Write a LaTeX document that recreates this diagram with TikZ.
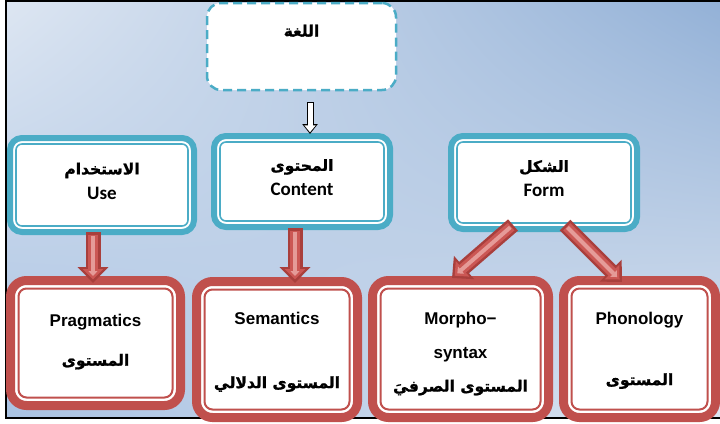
\documentclass[tikz,border=0pt]{standalone}
\usepackage{fontspec}
\setmainfont{Liberation Sans}
\newfontfamily\arfont[Script=Arabic, BoldFeatures={FakeBold=1.2}]{DejaVu Sans}
\newfontfamily\calfont{Carlito}
\TeXXeTstate=1
\usepackage{tikz}
\usetikzlibrary{calc,arrows.meta,shadings}

\definecolor{tealline}{HTML}{4BACC6}
\definecolor{redline}{HTML}{C0504D}
\definecolor{bgul}{HTML}{DDE6F2}
\definecolor{bgur}{HTML}{93B1D7}
\definecolor{bgll}{HTML}{A9C2E2}
\definecolor{bglr}{HTML}{DCE5F1}
\definecolor{arrowdark}{HTML}{A93F3C}
\definecolor{arrowmid}{HTML}{CB5754}
\definecolor{arrowlight}{HTML}{E59B98}

\newcommand{\artxt}[1]{{\arfont\bfseries\fontsize{15.5}{20}\selectfont\beginR #1\endR}}

\tikzset{
  topbox/.style={draw=tealline, line width=6pt, fill=white, rounded corners=12pt,
    outer sep=0pt, inner sep=0pt, align=center, font=\calfont\bfseries\fontsize{19}{20}\selectfont},
  levelbox/.style={draw=redline, line width=9pt, fill=white, rounded corners=16pt,
    outer sep=0pt, inner sep=0pt, align=center, font=\bfseries\fontsize{17}{20}\selectfont},
  dashbox/.style={draw=tealline, line width=2.5pt, fill=white, rounded corners=14pt,
    dash pattern=on 9pt off 5pt, outer sep=0pt, inner sep=0pt},
  tealring/.style={draw=tealline, line width=1.6pt, rounded corners=6pt},
  redring/.style={draw=redline, line width=2pt, rounded corners=8pt},
  arrowout/.style={draw=arrowdark, line width=15pt, -{Triangle[length=16pt,width=30pt]}},
  arrowin/.style={draw=arrowmid, line width=10pt, -{Triangle[length=10.5pt,width=20pt]},
    shorten >=3.5pt, shorten <=2.5pt},
  arrowhi/.style={draw=arrowlight, line width=4pt, -{Triangle[length=5pt,width=9pt]},
    shorten >=7pt, shorten <=3.5pt},
  hollowout/.style={draw=black, line width=7pt, -{Triangle[length=10pt,width=15pt]}},
  hollowin/.style={draw=white, line width=5pt, -{Triangle[length=7pt,width=11pt]},
    shorten >=1.7pt, shorten <=1pt}
}

\begin{document}
\begin{tikzpicture}[x=1pt,y=-1pt]
  \useasboundingbox (0,0) rectangle (720,423);
  % background and frame
  \fill[white] (0,0) rectangle (720,423);
  \shade[upper left=bgul, upper right=bgur, lower left=bgll, lower right=bglr]
    (6,1) rectangle (720,418);
  \draw[line width=2pt] (720,418) -- (6,418) -- (6,1) -- (720,1);

  % top box
  \node[dashbox, minimum width=189, minimum height=87, text height=10pt, text depth=30pt]
    (lugha) at (301.5,46.5) {\artxt{اللغة}};

  % second row
  \node[topbox, minimum width=184, minimum height=94] (use) at (102,185)
    {\artxt{الاستخدام}\\[5pt]Use\rule[-8pt]{0pt}{0pt}};
  \node[topbox, minimum width=176, minimum height=91] (content) at (302,181.5)
    {\artxt{المحتوى}\\[5pt]Content\rule[-8pt]{0pt}{0pt}};
  \node[topbox, minimum width=186, minimum height=93] (form) at (544,182.5)
    {\artxt{الشكل}\\[5pt]Form\rule[-8pt]{0pt}{0pt}};

  % levels
  \node[levelbox, minimum width=170, minimum height=125] (prag) at (95.5,343)
    {Pragmatics\\[19pt]\artxt{المستوى}\rule[-6pt]{0pt}{0pt}};
  \node[levelbox, minimum width=161, minimum height=136] (sem) at (277,349.5)
    {\rule{0pt}{17pt}Semantics\\[44pt]\artxt{المستوى الدلالي}};
  \node[levelbox, minimum width=176, minimum height=137] (morph) at (460.5,349)
    {\rule{0pt}{22pt}Morpho−\\[14pt]syntax\\[13pt]\artxt{المستوى الصرفيَ}};
  \node[levelbox, minimum width=152, minimum height=137] (phon) at (639.5,349)
    {\rule{0pt}{15pt}Phonology\\[41pt]\artxt{المستوى}};

  % inner rings
  \foreach \n in {use,content,form} {
    \draw[tealring] ($(\n.north west)+(6,6)$) rectangle ($(\n.south east)+(-6,-6)$);
  }
  \foreach \n in {prag,sem,morph,phon} {
    \draw[redring] ($(\n.north west)+(8,8)$) rectangle ($(\n.south east)+(-8,-8)$);
  }

  % arrows
  \draw[hollowout] ($(lugha.south)+(8.5,12)$) -- ($(content.north)+(8,-2)$);
  \draw[hollowin] ($(lugha.south)+(8.5,12)$) -- ($(content.north)+(8,-2)$);
  \foreach \a/\ax/\ay/\b/\bx/\by in {use/-9/0/prag/-2.5/2.5, content/-7/1/sem/18/1.5,
      form/-31/-4/morph/-8.5/-2.5, form/21/-4/phon/-17.5/1.5} {
    \draw[arrowout] ($(\a.south)+(\ax,\ay)$) -- ($(\b.north)+(\bx,\by)$);
    \draw[arrowin] ($(\a.south)+(\ax,\ay)$) -- ($(\b.north)+(\bx,\by)$);
    \draw[arrowhi] ($(\a.south)+(\ax,\ay)$) -- ($(\b.north)+(\bx,\by)$);
  }
\end{tikzpicture}
\end{document}
